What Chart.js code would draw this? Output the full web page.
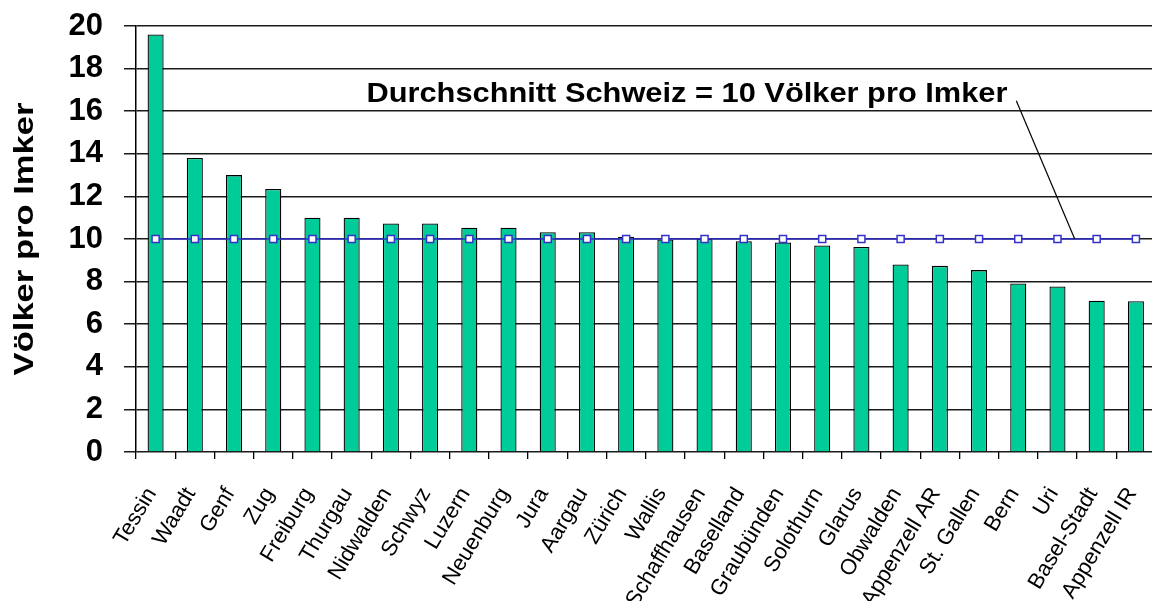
<!DOCTYPE html>
<html>
<head>
<meta charset="utf-8">
<script src="https://cdn.jsdelivr.net/npm/chart.js@4.4.1/dist/chart.umd.min.js"></script>
<style>
  html, body { margin: 0; padding: 0; background: #fff; overflow: hidden; }
  #chart_wrapper { width: 1162px; height: 601px; }
</style>
</head>
<body>
<div id="chart_wrapper"><canvas id="myChart" width="1162" height="601"></canvas></div>
<script>
// Kantone (sortiert nach Völker pro Imker)
let kantone = ["Tessin", "Waadt", "Genf", "Zug", "Freiburg", "Thurgau", "Nidwalden", "Schwyz",
  "Luzern", "Neuenburg", "Jura", "Aargau", "Zürich", "Wallis", "Schaffhausen", "Baselland",
  "Graubünden", "Solothurn", "Glarus", "Obwalden", "Appenzell AR", "St. Gallen", "Bern", "Uri",
  "Basel-Stadt", "Appenzell IR"];
let voelkerProImker = [19.6, 13.8, 13.0, 12.35, 11.0, 11.0, 10.73, 10.73, 10.53, 10.53, 10.32, 10.32,
  10.1, 9.98, 10.0, 9.9, 9.84, 9.7, 9.63, 8.8, 8.74, 8.54, 7.91, 7.77, 7.1, 7.08];
let durchschnitt = [10, 10, 10, 10, 10, 10, 10, 10, 10, 10, 10, 10, 10, 10, 10, 10, 10, 10, 10, 10,
  10, 10, 10, 10, 10, 10];
let yTicks = [0, 2, 4, 6, 8, 10, 12, 14, 16, 18, 20];
let yTitle = "Völker pro Imker";
let annotationText = "Durchschnitt Schweiz = 10 Völker pro Imker";
// Position der Beschriftung in Achsenwerten (Kategorie-Index, Wert)
let annotationAt = [13.55, 16.43];
let leaderFrom = [21.95, 16.49];
let leaderTo = [23.44, 10];

let fontFamily = '"Liberation Sans", Arial, sans-serif';
let barColor = "#00CC99";
let lineColor = "#3333CC";

// Beschriftung, Hinweislinie und y-Achsentitel zeichnen
const annotationPlugin = {
  id: "annotation",
  afterDatasetsDraw(chart) {
    const ctx = chart.ctx;
    const x = chart.scales.x;
    const y = chart.scales.y;

    ctx.save();
    ctx.strokeStyle = "#000000";
    ctx.lineWidth = 1.2;
    ctx.beginPath();
    ctx.moveTo(x.getPixelForValue(leaderFrom[0]), y.getPixelForValue(leaderFrom[1]));
    ctx.lineTo(x.getPixelForValue(leaderTo[0]), y.getPixelForValue(leaderTo[1]));
    ctx.stroke();
    ctx.restore();

    ctx.save();
    ctx.fillStyle = "#000000";
    ctx.font = "bold 28px " + fontFamily;
    ctx.textAlign = "center";
    ctx.textBaseline = "alphabetic";
    ctx.translate(x.getPixelForValue(annotationAt[0]), y.getPixelForValue(annotationAt[1]));
    ctx.scale(1.1, 1);
    ctx.fillText(annotationText, 0, 0);
    ctx.restore();

    // y-Achsentitel (etwas gestreckt wie im Original)
    ctx.save();
    ctx.fillStyle = "#000000";
    ctx.font = "bold 27px " + fontFamily;
    ctx.textAlign = "center";
    ctx.textBaseline = "alphabetic";
    ctx.translate(33, (chart.chartArea.top + chart.chartArea.bottom) / 2);
    ctx.rotate(-Math.PI / 2);
    ctx.scale(1.28, 1);
    ctx.fillText(yTitle, 0, 0);
    ctx.restore();
  },
};

let config = {
  type: "bar",
  data: {
    labels: kantone,
    datasets: [
      {
        type: "line",
        data: durchschnitt,
        borderColor: lineColor,
        borderWidth: 1.5,
        pointStyle: "rect",
        pointRadius: 5,
        pointBackgroundColor: "#FFFFFF",
        pointBorderColor: lineColor,
        pointBorderWidth: 1.5,
        lineTension: 0,
        fill: false,
        order: 0,
      },
      {
        type: "bar",
        data: voelkerProImker,
        backgroundColor: barColor,
        borderColor: "#000000",
        borderWidth: 1.3,
        barPercentage: 0.41,
        categoryPercentage: 1.0,
        order: 1,
      },
    ],
  },
  options: {
    responsive: false,
    animation: false,
    layout: {
      padding: { top: 26, right: 2, bottom: 0, left: 0 },
    },
    plugins: {
      legend: { display: false },
      tooltip: { enabled: false },
    },
    scales: {
      x: {
        afterFit: (scale) => {
          scale.height = 149;
          // gedrehte Beschriftungen sollen den Plotbereich nicht verkleinern
          scale.paddingLeft = 0;
          scale.paddingRight = 0;
        },
        grid: {
          display: true,
          offset: true,
          drawOnChartArea: false,
          drawTicks: true,
          tickLength: 7,
          color: "#000000",
          lineWidth: 1.3,
        },
        border: { display: false },
        ticks: {
          autoSkip: false,
          maxRotation: 59,
          minRotation: 59,
          padding: 24,
          labelOffset: -4,
          color: "#000000",
          font: { family: fontFamily, size: 22 },
        },
      },
      y: {
        min: 0,
        max: 20,
        afterFit: (scale) => {
          scale.width = 136;
          // Abstand der Beschriftung soll den Plotbereich nicht verkleinern
          scale.paddingTop = 0;
          scale.paddingBottom = 0;
        },
        afterBuildTicks: (scale) => {
          scale.ticks = yTicks.map((v) => ({ value: v }));
        },
        grid: {
          color: "#1a1a1a",
          lineWidth: 1.5,
          drawTicks: true,
          tickLength: 12,
        },
        border: { display: true, color: "#000000", width: 1.5 },
        ticks: {
          padding: 21,
          color: "#000000",
          font: { family: fontFamily, size: 31, weight: "bold" },
        },
      },
    },
  },
  plugins: [annotationPlugin],
};

window.onload = function () {
  let ctx = document.getElementById("myChart").getContext("2d");
  window.myChart = new Chart(ctx, config);
};
</script>
</body>
</html>
